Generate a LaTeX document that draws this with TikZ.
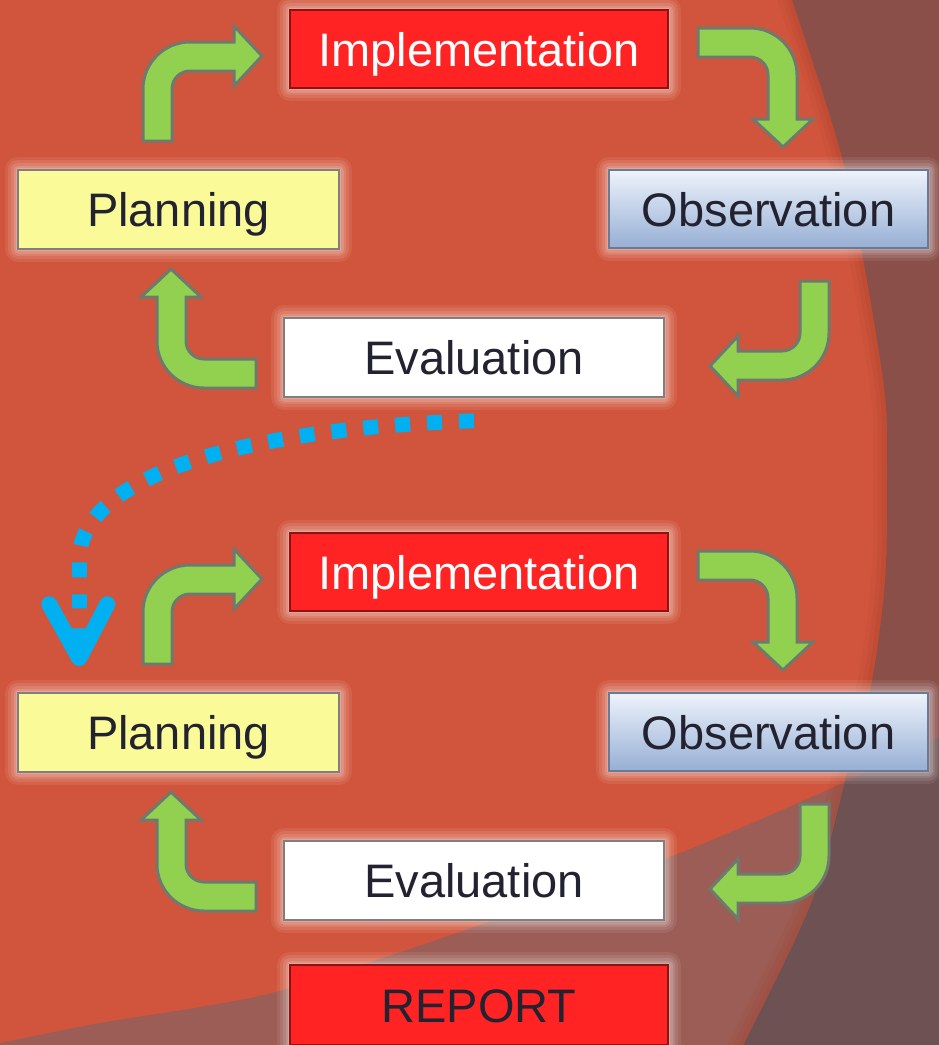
\documentclass[tikz,border=0pt]{standalone}
\usepackage{fontspec}
\setmainfont{Liberation Sans}
\usetikzlibrary{calc}
\definecolor{bgred}{HTML}{D1553C}
\definecolor{bgbrown}{HTML}{8A4F49}
\definecolor{bgdarkL}{HTML}{9B5D56}
\definecolor{bgdarkR}{HTML}{6E5152}
\definecolor{rimred}{HTML}{A8412C}
\definecolor{implred}{HTML}{FF2323}
\definecolor{planyel}{HTML}{FAFA98}
\definecolor{obstop}{HTML}{EEF3FB}
\definecolor{obsmid}{HTML}{BDCEE7}
\definecolor{obsbot}{HTML}{96AFD4}
\definecolor{txtdark}{HTML}{222230}
\definecolor{arrgreen}{HTML}{92D050}
\definecolor{arredge}{HTML}{6E7A6E}
\definecolor{dotblue}{HTML}{00B0F0}
\definecolor{boxedge}{HTML}{7F7F7F}
\newcommand\boxfont{\fontsize{47}{56}\selectfont}
\newcommand\bentArrow[2]{%
  \begin{scope}[shift={#1},rotate=#2]
    \filldraw[greenarrow] (0,99) -- (0,47) .. controls (0,21) and (21,0) .. (47,0)
      -- (91,0) -- (91,-16) -- (119,14) -- (91,44) -- (91,29) -- (47,29)
      .. controls (37,29) and (29,37) .. (29,47) -- (29,99) -- cycle;
  \end{scope}}
\tikzset{
  greenarrow/.style={fill=arrgreen, draw=arredge, line width=3pt, line join=miter},
  glow/.style={
    preaction={draw=white, draw opacity=0.07, line width=26pt, line join=round},
    preaction={draw=white, draw opacity=0.09, line width=20pt, line join=round},
    preaction={draw=white, draw opacity=0.11, line width=14pt, line join=round},
    preaction={draw=white, draw opacity=0.14, line width=9pt, line join=round},
    preaction={draw=white, draw opacity=0.18, line width=4pt, line join=round}},
  boxbase/.style={glow, rectangle, draw=boxedge, line width=1.5pt, inner sep=0pt,
    font=\boxfont, text height=34pt, text depth=0pt, text=txtdark},
  implbox/.style={boxbase, fill=implred, draw=black!45!implred, text=white,
    minimum width=378pt, minimum height=78pt},
  planbox/.style={boxbase, fill=planyel, minimum width=321pt, minimum height=79pt},
  obsbox/.style={boxbase, top color=obstop, middle color=obsmid, bottom color=obsbot,
    draw=obsbot!70!black, minimum width=319pt, minimum height=78pt},
  evalbox/.style={boxbase, fill=white, minimum width=380pt, minimum height=79pt},
  reportbox/.style={boxbase, fill=implred, draw=black!45!implred, text=txtdark,
    minimum width=378pt, minimum height=80pt},
  dotline/.style={draw=dotblue, line width=15pt, dash pattern=on 15pt off 17pt},
  dothead/.style={draw=dotblue, line width=16pt, line cap=round, line join=round}
}
\begin{document}
\begin{tikzpicture}[x=1pt, y=-1pt]
\useasboundingbox (0,0) rectangle (938,1045);
% background
\fill[bgbrown] (-10,-10) rectangle (948,1055);
\fill[bgdarkR] plot[smooth] coordinates {(-20,1047) (0,1043) (100,1023) (200,1007) (290,988) (480,925) (680,853) (850,780) (938,738) (960,727)}
  -- (960,1060) -- (-20,1060) -- cycle;
\fill[bgred] (-10,-60) -- plot[smooth] coordinates {(775,-50) (792,0) (845,170) (883,380) (887,480) (885,580) (872,680) (850,760) (812,900) (743,1045) (725,1080)} -- (-10,1080) -- cycle;
\begin{scope}
  \clip (-10,-60) -- plot[smooth] coordinates {(775,-50) (792,0) (845,170) (883,380) (887,480) (885,580) (872,680) (850,760) (812,900) (743,1045) (725,1080)} -- (-10,1080) -- cycle;
  \fill[bgdarkL] plot[smooth] coordinates {(-20,1047) (0,1043) (100,1023) (200,1007) (290,988) (480,925) (680,853) (850,780) (938,738) (960,727)}
    -- (960,1060) -- (-20,1060) -- cycle;
  \draw[rimred, line width=28pt, draw opacity=0.12] plot[smooth] coordinates {(775,-50) (792,0) (845,170) (883,380) (887,480) (885,580) (872,680) (850,760) (812,900) (743,1045) (725,1080)};
  \draw[rimred, line width=18pt, draw opacity=0.15] plot[smooth] coordinates {(775,-50) (792,0) (845,170) (883,380) (887,480) (885,580) (872,680) (850,760) (812,900) (743,1045) (725,1080)};
  \draw[rimred, line width=9pt, draw opacity=0.2] plot[smooth] coordinates {(775,-50) (792,0) (845,170) (883,380) (887,480) (885,580) (872,680) (850,760) (812,900) (743,1045) (725,1080)};
\end{scope}

% first cycle
\node[implbox] (impA) at (479,49) {Implementation};
\node[planbox] (planA) at (178.5,209.5) {Planning};
\node[obsbox] (obsA) at (768.5,209) {Observation};
\node[evalbox] (evalA) at (474,357.5) {Evaluation};
% second cycle
\node[implbox] (impB) at (479,572) {Implementation};
\node[planbox] (planB) at (178.5,732.5) {Planning};
\node[obsbox] (obsB) at (768.5,732) {Observation};
\node[evalbox] (evalB) at (474,880.5) {Evaluation};
\node[reportbox] (report) at (479,1005) {REPORT};

% green bent arrows, first cycle
\bentArrow{(143,42)}{0}
\bentArrow{(797,28)}{-90}
\bentArrow{(829,380)}{-180}
\bentArrow{(157,388)}{90}
% green bent arrows, second cycle
\bentArrow{(143,565)}{0}
\bentArrow{(797,551)}{-90}
\bentArrow{(829,903)}{-180}
\bentArrow{(157,911)}{90}

% dotted connector from first Evaluation to second Planning
\coordinate (ds) at ($(evalA.south)+(0,23)$);
\coordinate (dv) at ($(planB.north west)+(62,-132)$);
\coordinate (dt) at ($(planB.north west)+(62,-84)$);
\coordinate (dtip) at ($(planB.north west)+(62,-34)$);
\coordinate (dl) at ($(planB.north west)+(32,-88)$);
\coordinate (dr) at ($(planB.north west)+(90,-88)$);
\draw[dotline] (ds) .. controls +(-230,8) and +(0,-85) .. (dv) -- (dt);
\draw[dothead] (dl) -- (dtip) -- (dr);
\fill[dotblue] ($(dtip)+(-9,-30)$) -- ($(dtip)+(9,-30)$) -- (dtip) -- cycle;
\end{tikzpicture}
\end{document}
